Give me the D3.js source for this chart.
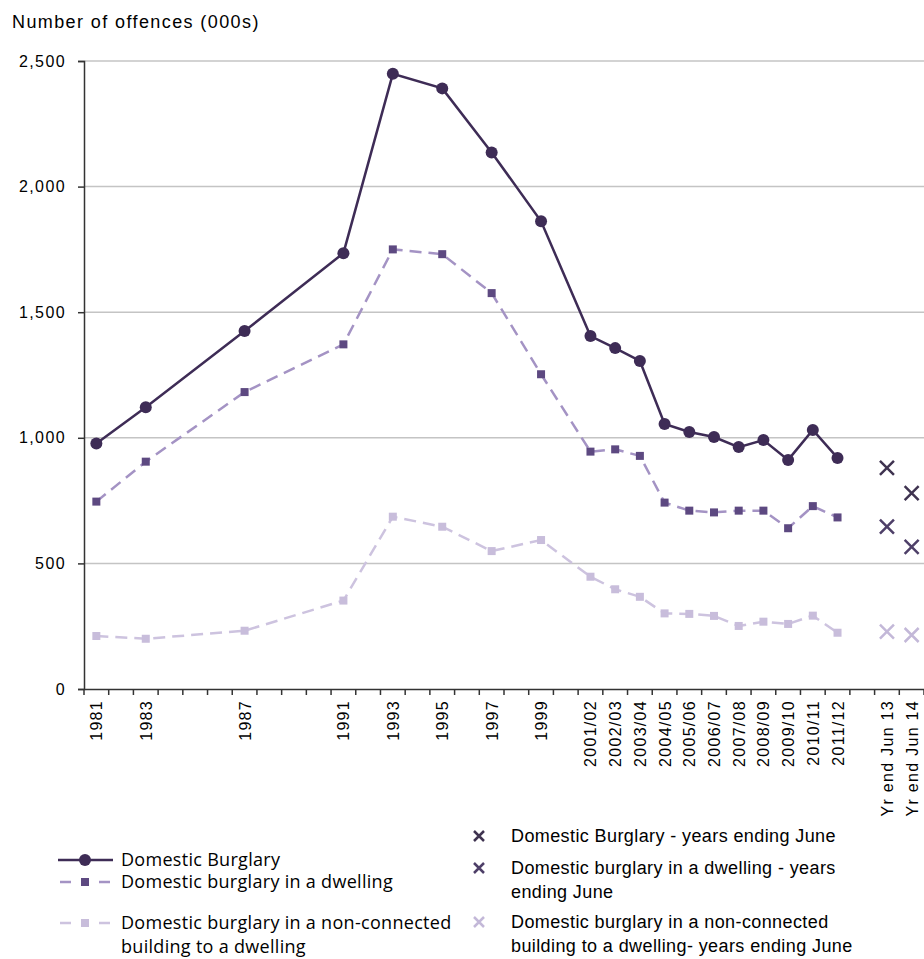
<!DOCTYPE html>
<html>
<head>
<meta charset="utf-8">
<script src="https://cdn.jsdelivr.net/npm/d3@7"></script>
<style>
  body { margin: 0; background: #fff; }
  svg { display: block; }
  .axis text { font-family: "Liberation Sans", Arial, sans-serif; fill: #000; }
</style>
</head>
<body>
<div id="chart"></div>
<script>
var
  width = 924,
  height = 959;

// x categories (only some of them get a label)
var categories = ["1981", "1982", "1983", "1984", "1985", "1986", "1987", "1988", "1989", "1990",
  "1991", "1992", "1993", "1994", "1995", "1996", "1997", "1998", "1999", "2000",
  "2001/02", "2002/03", "2003/04", "2004/05", "2005/06", "2006/07", "2007/08", "2008/09",
  "2009/10", "2010/11", "2011/12", "gap", "Yr end Jun 13", "Yr end Jun 14"];
var shownLabels = ["1981", "1983", "1987", "1991", "1993", "1995", "1997", "1999",
  "2001/02", "2002/03", "2003/04", "2004/05", "2005/06", "2006/07", "2007/08", "2008/09",
  "2009/10", "2010/11", "2011/12", "Yr end Jun 13", "Yr end Jun 14"];

// survey periods with data
var periods = ["1981", "1983", "1987", "1991", "1993", "1995", "1997", "1999",
  "2001/02", "2002/03", "2003/04", "2004/05", "2005/06", "2006/07", "2007/08", "2008/09",
  "2009/10", "2010/11", "2011/12"];
var burglary = [977, 1122, 1425, 1735, 2449, 2391, 2136, 1862,
  1405, 1357, 1306, 1055, 1023, 1003, 963, 991, 912, 1031, 920];
var dwelling = [746, 905, 1182, 1372, 1750, 1731, 1576, 1253,
  945, 954, 928, 742, 710, 703, 710, 710, 640, 728, 683];
var nonConnected = [211, 200, 232, 352, 686, 646, 549, 593,
  447, 397, 367, 301, 299, 291, 251, 268, 259, 292, 224];

// years ending June
var junePeriods = ["Yr end Jun 13", "Yr end Jun 14"];
var burglaryJune = [880, 780];
var dwellingJune = [646, 566];
var nonConnectedJune = [228, 215];

var yTicks = [0, 500, 1000, 1500, 2000, 2500];

var plotLeft = 84, plotRight = 924, plotTop = 61, plotBottom = 689;

var svg = d3.select("#chart")
  .append("svg")
  .attr("width", width)
  .attr("height", height);

var x = d3.scaleBand()
  .domain(categories)
  .range([plotLeft, plotRight]);

var y = d3.scaleLinear()
  .domain([0, 2500])
  .range([plotBottom, plotTop]);

function cx(c) { return x(c) + x.bandwidth() / 2; }

// title
svg.append("text")
  .attr("x", 12)
  .attr("y", 28)
  .style("font-family", "Liberation Sans, Arial, sans-serif")
  .style("font-size", "18px")
  .style("letter-spacing", "1.4px")
  .attr("fill", "#000")
  .text("Number of offences (000s)");

// gridlines
svg.append("g")
  .selectAll("line")
  .data(yTicks.filter(function(d) { return d > 0; }))
  .enter().append("line")
  .attr("x1", plotLeft)
  .attr("x2", plotRight)
  .attr("y1", function(d) { return y(d); })
  .attr("y2", function(d) { return y(d); })
  .attr("stroke", "#c4c4c4")
  .attr("stroke-width", 1.5);

// y axis
var yAxis = svg.append("g")
  .attr("class", "axis")
  .attr("transform", "translate(" + plotLeft + ",0)")
  .call(d3.axisLeft(y).tickValues(yTicks).tickFormat(d3.format(",")).tickSize(6).tickPadding(12));
yAxis.selectAll("text").style("font-size", "16px").style("letter-spacing", "1.4px");
yAxis.selectAll("line, path").attr("stroke", "#333").attr("stroke-width", 1.5);

// x axis: labels at category centres, ticks at category edges
var xAxis = svg.append("g")
  .attr("class", "axis")
  .attr("transform", "translate(0," + plotBottom + ")")
  .call(d3.axisBottom(x).tickSize(0).tickSizeOuter(0)
    .tickFormat(function(d) { return shownLabels.indexOf(d) >= 0 ? d : ""; }));
xAxis.select(".domain").attr("stroke", "#333").attr("stroke-width", 1.5);
xAxis.selectAll("text")
  .style("font-size", "16px")
  .style("letter-spacing", "1.3px")
  .attr("text-anchor", "end")
  .attr("dy", null)
  .attr("transform", "translate(6,11) rotate(-90)")
  .attr("y", 0);

var edges = categories.map(function(c) { return x(c); }).concat([plotRight]);
xAxis.selectAll(".edge")
  .data(edges)
  .enter().append("line")
  .attr("class", "edge")
  .attr("x1", function(d) { return d; })
  .attr("x2", function(d) { return d; })
  .attr("y1", 0)
  .attr("y2", 6)
  .attr("stroke", "#333")
  .attr("stroke-width", 1.5);

// series
var series = [
  { values: burglary, line: "#3e2c56", marker: "#3e2c56", dash: null, width: 2.5, shape: "circle" },
  { values: dwelling, line: "#a493c4", marker: "#5d4981", dash: "12,7", width: 2.5, shape: "square" },
  { values: nonConnected, line: "#cdc3df", marker: "#c8bddb", dash: "12,7", width: 2.5, shape: "square" }
];

var line = d3.line()
  .x(function(d) { return cx(d.period); })
  .y(function(d) { return y(d.value); });

series.slice().reverse().forEach(function(s) {
  var pts = periods.map(function(p, i) { return { period: p, value: s.values[i] }; });
  var g = svg.append("g");
  g.append("path")
    .datum(pts)
    .attr("d", line)
    .attr("fill", "none")
    .attr("stroke", s.line)
    .attr("stroke-width", s.width)
    .attr("stroke-dasharray", s.dash);
  if (s.shape === "circle") {
    g.selectAll("circle")
      .data(pts)
      .enter().append("circle")
      .attr("cx", function(d) { return cx(d.period); })
      .attr("cy", function(d) { return y(d.value); })
      .attr("r", 6)
      .attr("fill", s.marker);
  } else {
    g.selectAll("rect")
      .data(pts)
      .enter().append("rect")
      .attr("x", function(d) { return cx(d.period) - 4; })
      .attr("y", function(d) { return y(d.value) - 4; })
      .attr("width", 8)
      .attr("height", 8)
      .attr("fill", s.marker);
  }
});

// year ending June crosses
var juneSeries = [
  { values: burglaryJune, color: "#3f3350" },
  { values: dwellingJune, color: "#4e3f68" },
  { values: nonConnectedJune, color: "#c3b8d8" }
];

function cross(g, px, py, r, color) {
  g.append("path")
    .attr("d", "M" + (px - r) + "," + (py - r) + "L" + (px + r) + "," + (py + r) +
      "M" + (px - r) + "," + (py + r) + "L" + (px + r) + "," + (py - r))
    .attr("stroke", color)
    .attr("stroke-width", 2.5)
    .attr("fill", "none");
}

var jg = svg.append("g");
juneSeries.forEach(function(s) {
  junePeriods.forEach(function(p, i) {
    cross(jg, cx(p), y(s.values[i]), 7, s.color);
  });
});

// legend
var lg = svg.append("g");

function legendText(g, tx, ty, lines, font, size, spacing) {
  var t = g.append("text")
    .attr("x", tx)
    .attr("y", ty)
    .style("font-family", font)
    .style("font-size", size)
    .style("letter-spacing", spacing)
    .attr("fill", "#000");
  lines.forEach(function(l, i) {
    t.append("tspan").attr("x", tx).attr("dy", i === 0 ? 0 : 24).text(l);
  });
}

// left column
var legFont = "'Open Sans', sans-serif";
lg.append("line").attr("x1", 58).attr("x2", 113).attr("y1", 860).attr("y2", 860)
  .attr("stroke", series[0].line).attr("stroke-width", 2.5);
lg.append("circle").attr("cx", 85).attr("cy", 860).attr("r", 6).attr("fill", series[0].marker);
legendText(lg, 121, 866, ["Domestic Burglary"], legFont, "18px", "0.3px");

[[1, 882, ["Domestic burglary in a dwelling"]],
 [2, 923, ["Domestic burglary in a non-connected", "building to a dwelling"]]].forEach(function(it) {
  var s = series[it[0]], yy = it[1];
  lg.append("line").attr("x1", 60).attr("x2", 71).attr("y1", yy).attr("y2", yy)
    .attr("stroke", s.line).attr("stroke-width", 2.5);
  lg.append("line").attr("x1", 99).attr("x2", 110).attr("y1", yy).attr("y2", yy)
    .attr("stroke", s.line).attr("stroke-width", 2.5);
  lg.append("rect").attr("x", 81).attr("y", yy - 4).attr("width", 8).attr("height", 8)
    .attr("fill", s.marker);
  legendText(lg, 121, yy + 6, it[2], legFont, "18px", "0.3px");
});

// right column
var rFont = "'Liberation Sans', Arial, sans-serif";
[[0, 836, ["Domestic Burglary - years ending June"]],
 [1, 868, ["Domestic burglary in a dwelling - years", "ending June"]],
 [2, 922, ["Domestic burglary in a non-connected", "building to a dwelling- years ending June"]]].forEach(function(it) {
  var s = juneSeries[it[0]], yy = it[1];
  cross(lg, 479, yy, 5, s.color);
  legendText(lg, 511, yy + 6, it[2], rFont, "18px", "0.4px");
});
</script>
</body>
</html>
